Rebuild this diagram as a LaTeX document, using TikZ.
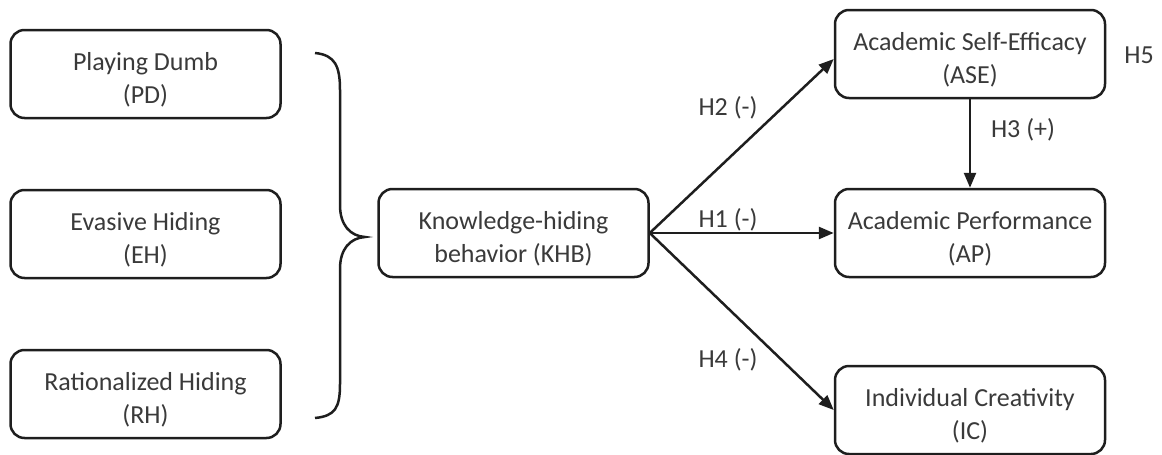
\documentclass[tikz,border=0pt]{standalone}
\usepackage{fontspec}
\setmainfont{Carlito}
\usetikzlibrary{arrows.meta,calc}
\definecolor{txt}{HTML}{3A3A3A}
\definecolor{ln}{HTML}{1E1E1E}
\newcommand{\topgap}{\rule{0pt}{30pt}}
\begin{document}
\begin{tikzpicture}[x=1pt,y=-1pt,
  box/.style={draw=ln, line width=2.5pt, rounded corners=14pt, minimum width=270pt, minimum height=88pt,
    align=center, text=txt, font=\fontsize{26}{33}\selectfont, inner sep=0pt},
  lab/.style={text=txt, font=\fontsize{26}{30}\selectfont, inner sep=0pt},
  arr/.style={draw=ln, line width=2.5pt, -{Triangle[length=15pt,width=12pt]}}]
\useasboundingbox (0,0) rectangle (1162,455);
\node[box] (pd) at (145.5,74) {\topgap Playing Dumb\\(PD)};
\node[box] (eh) at (145.5,234) {\topgap Evasive Hiding\\(EH)};
\node[box] (rh) at (145.5,394) {\topgap Rationalized Hiding\\(RH)};
\node[box] (khb) at (513.5,233) {\topgap Knowledge-hiding\\behavior (KHB)};
\node[box] (ase) at (970,54) {\topgap Academic Self-Efficacy\\(ASE)};
\node[box] (ap) at (970,233) {\topgap Academic Performance\\(AP)};
\node[box] (ic) at (970,410) {\topgap Individual Creativity\\(IC)};
% brace
\draw[ln, line width=2.5pt] (315,53) .. controls (335,55) and (340,66) .. (340,90)
  -- (340,205) .. controls (340,225) and (350,236) .. (365,237)
  .. controls (350,238) and (340,249) .. (340,269)
  -- (340,384) .. controls (340,408) and (335,416) .. (315,418);
\coordinate (k) at (khb.east);
\draw[arr] (k) -- ($(ase.west)+(0,5)$);
\draw[arr] (k) -- (ap.west);
\draw[arr] (k) -- (ic.west);
\draw[arr] (ase.south) -- (ap.north);
\node[lab] (h2) at (728,108) {H2 (-)};
\node[lab] (h1) at (728,220) {H1 (-)};
\node[lab] (h4) at (728,360) {H4 (-)};
\node[lab] (h3) at (1023,130) {H3 (+)};
\node[lab] (h5) at (1139,55) {H5};
\end{tikzpicture}
\end{document}
